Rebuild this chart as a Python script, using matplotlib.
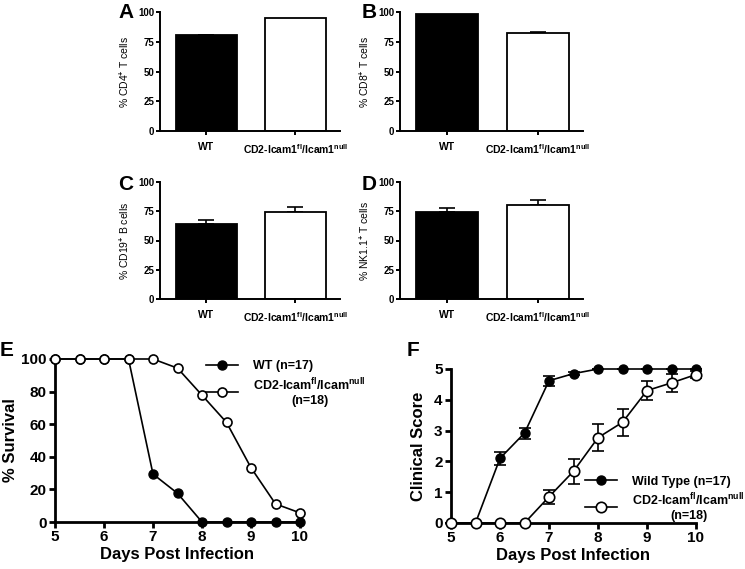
import matplotlib
matplotlib.use("Agg")
import matplotlib.pyplot as plt
from matplotlib.lines import Line2D
import numpy as np

plt.rcParams['font.family'] = ['Liberation Sans', 'DejaVu Sans']
plt.rcParams['font.weight'] = 'bold'
plt.rcParams['mathtext.fontset'] = 'custom'
plt.rcParams['mathtext.rm'] = 'Liberation Sans:bold'
plt.rcParams['mathtext.it'] = 'Liberation Sans:bold'
plt.rcParams['mathtext.bf'] = 'Liberation Sans:bold'
plt.rcParams['mathtext.default'] = 'rm'

# ---- data ----
groups = ['WT', 'CD2-Icam1$^{\\mathrm{fl}}$/Icam1$^{\\mathrm{null}}$']
cd4_mean = [80.5, 95.0]
cd4_err = [0.5, 0.0]
cd8_mean = [98.5, 82.0]
cd8_err = [0.0, 0.8]
cd19_mean = [64.5, 74.0]
cd19_err = [3.0, 5.0]
nk_mean = [74.5, 80.0]
nk_err = [3.0, 5.0]
bar_ylabels = ['% CD4$^{+}$ T cells', '% CD8$^{+}$ T cells',
               '% CD19$^{+}$ B cells', '% NK1.1$^{+}$ T cells']

days = [5, 5.5, 6, 6.5, 7, 7.5, 8, 8.5, 9, 9.5, 10]
surv_wt = [100, 100, 100, 100, 29.4, 17.6, 0, 0, 0, 0, 0]
surv_ko = [100, 100, 100, 100, 100, 94.4, 77.8, 61.1, 33.3, 11.1, 5.6]

score_wt = [0, 0, 2.1, 2.92, 4.62, 4.85, 5, 5, 5, 5, 5]
score_wt_err = [0, 0, 0.22, 0.18, 0.16, 0.05, 0, 0, 0, 0, 0]
score_ko = [0, 0, 0, 0, 0.85, 1.68, 2.77, 3.27, 4.3, 4.55, 4.82]
score_ko_err = [0, 0, 0, 0, 0.23, 0.4, 0.44, 0.43, 0.32, 0.3, 0.12]

W, H = 745, 569
fig = plt.figure(figsize=(W / 100, H / 100), dpi=100)


def px_axes(left, right, top, bottom):
    return fig.add_axes([left / W, 1 - bottom / H, (right - left) / W, (bottom - top) / H])


def style(ax, lw=1.6, ticklen=3.5):
    ax.spines['top'].set_visible(False)
    ax.spines['right'].set_visible(False)
    for s in ('left', 'bottom'):
        ax.spines[s].set_linewidth(lw)
    ax.tick_params(width=lw, length=ticklen, direction='out')


def bar_panel(ax, means, errs, ylabel):
    x = np.arange(len(means))
    ax.bar(x, means, width=0.685, color=['black', 'white'], edgecolor='black',
           linewidth=1.3, zorder=2)
    for xi, m, e in zip(x, means, errs):
        if e > 0:
            ax.errorbar([xi], [m], yerr=[[0], [e]], fmt='none', ecolor='black',
                        elinewidth=1.2, capsize=6, capthick=1.2, zorder=1)
    ax.set_xlim(-0.52, 1.5)
    ax.set_ylim(0, 100)
    ax.set_yticks([0, 25, 50, 75, 100])
    ax.set_xticks(x)
    ax.set_xticklabels(groups, fontsize=7.5, fontweight='bold')
    ax.tick_params(axis='y', labelsize=7, pad=1)
    ax.tick_params(axis='x', pad=5)
    ax.set_ylabel(ylabel, fontsize=7.5, fontweight='normal', labelpad=5)
    style(ax, lw=1.4, ticklen=3)


axA = px_axes(160, 340, 12, 131)
bar_panel(axA, cd4_mean, cd4_err, bar_ylabels[0])
axB = px_axes(400, 583, 12, 131)
bar_panel(axB, cd8_mean, cd8_err, bar_ylabels[1])
axC = px_axes(160, 340, 182, 299)
bar_panel(axC, cd19_mean, cd19_err, bar_ylabels[2])
axD = px_axes(400, 583, 182, 299)
bar_panel(axD, nk_mean, nk_err, bar_ylabels[3])

# ---- E: survival ----
axE = px_axes(55, 300, 359, 522)
axE.plot(days, surv_wt, '-o', color='black', mfc='black', mec='black', ms=6.5,
         lw=1.2, clip_on=False, zorder=3, label='WT (n=17)')
axE.plot(days, surv_ko, '-o', color='black', mfc='white', mec='black', ms=6.5,
         mew=1.2, lw=1.2, clip_on=False, zorder=4,
         label='CD2-Icam$^{\\mathrm{fl}}$/Icam$^{\\mathrm{null}}$\n(n=18)')
axE.set_xlim(5, 10)
axE.set_ylim(0, 100)
axE.set_xticks([5, 6, 7, 8, 9, 10])
axE.set_yticks([0, 20, 40, 60, 80, 100])
axE.tick_params(labelsize=11, pad=2)
axE.set_xlabel('Days Post Infection', fontsize=12, fontweight='bold', labelpad=2)
axE.set_ylabel('% Survival', fontsize=12, fontweight='bold', labelpad=2)
style(axE, lw=2.0, ticklen=4)
legE = axE.legend(loc='upper left', bbox_to_anchor=(0.57, 1.06), frameon=False,
                  fontsize=9, handlelength=2.6, handletextpad=1.2, labelspacing=0.3)
legE.get_texts()[1].set_multialignment('center')

# ---- F: clinical score ----
axF = px_axes(451, 696, 369, 523)
axF.errorbar(days, score_wt, yerr=score_wt_err, fmt='-o', color='black', mfc='black',
             mec='black', ms=6.5, lw=1.2, elinewidth=1.2, capsize=4, capthick=1.2,
             clip_on=False, zorder=3)
axF.errorbar(days, score_ko, yerr=score_ko_err, fmt='-o', color='black', mfc='white',
             mec='black', ms=7.5, mew=1.2, lw=1.2, elinewidth=1.2, capsize=4,
             capthick=1.2, clip_on=False, zorder=4)
axF.set_xlim(5, 10)
axF.set_ylim(0, 5)
axF.set_xticks([5, 6, 7, 8, 9, 10])
axF.set_yticks([0, 1, 2, 3, 4, 5])
axF.tick_params(labelsize=11, pad=2)
axF.set_xlabel('Days Post Infection', fontsize=12, fontweight='bold', labelpad=2)
axF.set_ylabel('Clinical Score', fontsize=12, fontweight='bold', labelpad=6)
style(axF, lw=2.0, ticklen=4)
hF = [Line2D([], [], color='black', marker='o', mfc='black', mec='black', ms=6.5, lw=1.2),
      Line2D([], [], color='black', marker='o', mfc='white', mec='black', ms=7.5,
             mew=1.2, lw=1.2)]
legF = axF.legend(hF, ['Wild Type (n=17)',
                       'CD2-Icam$^{\\mathrm{fl}}$/Icam$^{\\mathrm{null}}$\n(n=18)'],
                  loc='upper left', bbox_to_anchor=(0.5, 0.38),
                  frameon=False, fontsize=9, handlelength=2.6, handletextpad=1.2,
                  labelspacing=0.3)
legF.get_texts()[1].set_multialignment('center')

# panel letters
for letter, x, y in [('A', 118, 18), ('B', 362, 18), ('C', 118, 190), ('D', 362, 190),
                     ('E', 0, 356), ('F', 407, 356)]:
    fig.text(x / W, 1 - y / H, letter, fontsize=15, fontweight='bold',
             ha='left', va='baseline')

fig.savefig('out.png', dpi=100)
